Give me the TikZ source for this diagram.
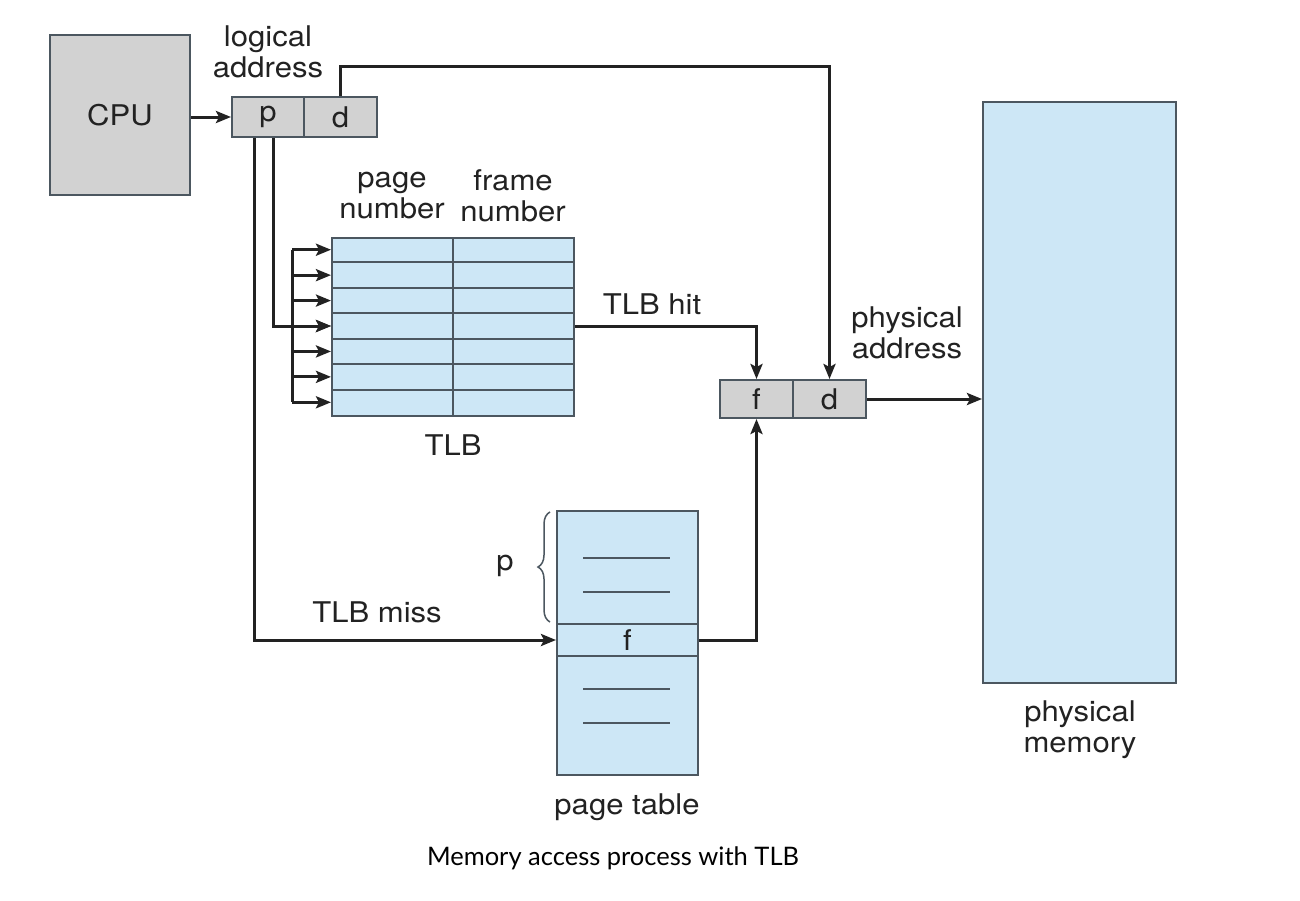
\documentclass[tikz,border=0pt]{standalone}
\usepackage{fontspec}
\setmainfont{TeX Gyre Heros}[FakeStretch=1.09]
\newfontfamily\capfont{Lato}
\usetikzlibrary{arrows.meta,decorations.pathreplacing,calc}
\definecolor{boxgray}{HTML}{D2D2D2}
\definecolor{memblue}{HTML}{CDE7F6}
\definecolor{edge}{HTML}{4C5760}
\definecolor{ink}{HTML}{222222}
\begin{document}
\begin{tikzpicture}[x=1pt,y=-1pt,
  every node/.style={font=\fontsize{28.5}{31}\selectfont, text=ink, inner sep=0pt},
  cell/.style={draw=edge, line width=2pt, fill=boxgray, minimum height=40pt},
  mem/.style={draw=edge, line width=2pt, fill=memblue},
  wire/.style={draw=ink, line width=3pt},
  arr/.style={wire, -{Stealth[length=15pt,width=12pt,inset=3pt]}},
  lbl/.style={align=center},
  rule/.style={draw=edge, line width=2pt}]

\fill[white] (0,0) rectangle (1300,900);
\useasboundingbox (0,0) rectangle (1300,900);

% CPU and logical address
\node[cell, minimum width=140pt, minimum height=160pt] (cpu) at (120,115) {CPU};
\node[cell, minimum width=72pt] (lp) at (268,117) {\raisebox{-3pt}{p}};
\node[cell, minimum width=73pt] (ld) at (340.5,117) {d};
\node[lbl] (lalabel) at (268,52) {logical\\address};

% physical address
\node[cell, minimum width=73pt, minimum height=38pt] (pf) at (756.5,399) {f};
\node[cell, minimum width=73pt, minimum height=38pt] (pd) at (829.5,399) {d};
\node[lbl] (palabel) at (907,333) {physical\\address};

% TLB
\node[mem, minimum width=242pt, minimum height=178pt] (tlb) at (453,327) {};
\foreach \i in {1,...,6}
  \draw[rule] ($(tlb.north west)+(0,{\i*25.43})$) -- ++(242,0);
\draw[rule] (tlb.north) -- (tlb.south);
\foreach \i in {1,...,7}
  \coordinate (row\i) at ($(tlb.north west)+(0,{(\i-0.5)*25.43})$);
\coordinate (bustop) at ($(row1)+(-39,0)$);
\coordinate (busbot) at ($(row7)+(-39,0)$);
\node[lbl] (pnlabel) at (392,196) {page\\number};
\node[lbl] (fnlabel) at (513,196) {frame\\number};
\node (tlblabel) at (453,445) {TLB};

% page table
\node[mem, minimum width=141pt, minimum height=264pt] (ptab) at (627.5,643) {};
\node[mem, minimum width=141pt, minimum height=32pt] (pte) at (627.5,640) {f};
\foreach \yy in {558,592,689,723}
  \draw[rule] (583,\yy) -- (670,\yy);
\draw[draw=edge, line width=1.5pt, decorate, decoration={brace, amplitude=12pt}]
  (550,622) -- (550,512);
\node (plabel) at (505,566) {p};
\node (ptlabel) at (627,807) {page table};

% physical memory
\node[mem, minimum width=193pt, minimum height=581pt] (pm) at (1079.5,392.5) {};
\node[lbl] (pmlabel) at (1080,730) {physical\\memory};

% connectors
\draw[arr] (cpu.east |- lp) -- (lp.west);
\draw[arr] (ld.north) -- ++(0,-30) -| (pd.north);
\draw[arr] ([xshift=-14pt]lp.south) |- (pte.west);
\draw[arr] ([xshift=5pt]lp.south) |- (row4);
\draw[wire] (bustop) -- (busbot);
\foreach \i in {1,...,7}
  \draw[arr] (row\i -| bustop) -- (row\i);
\draw[arr] (row4 -| tlb.east) -| (pf.north);
\draw[arr] (pte.east) -| (pf.south);
\draw[arr] (pd.east) -- (pd.east -| pm.west);

\node (hitlabel) at (652,304) {TLB hit};
\node (misslabel) at (377,612) {TLB miss};

\node[font=\capfont\fontsize{25.5}{28}\selectfont, text=black] (caption) at (613,858)
  {Memory access process with TLB};
\end{tikzpicture}
\end{document}
